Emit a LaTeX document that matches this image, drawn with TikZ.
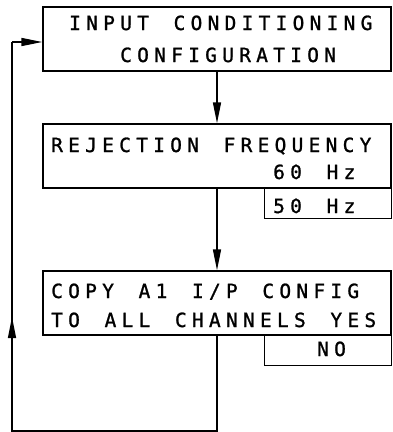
\documentclass[tikz,border=0pt]{standalone}
\usepackage{fontspec}
\usepackage{tikz}
\usetikzlibrary{arrows.meta,positioning,calc}
\newfontfamily\dispfont[LetterSpace=27,WordSpace=1.45,FakeBold=1.2]{DejaVu Sans Mono}
\tikzset{
	menubox/.style={draw,line width=1.3pt,inner sep=0pt},
	subbox/.style={draw,line width=1pt,inner sep=0pt},
	disptext/.style={anchor=base west,inner sep=0pt,font=\dispfont\fontsize{19.5}{20}\selectfont},
	flow/.style={line width=1.4pt,-{Triangle[length=21pt,width=8pt]}},
	plain/.style={line width=1.4pt}
}
\begin{document}
\begin{tikzpicture}[x=1pt,y=-1pt]
			\useasboundingbox (0,0) rectangle (392,432);
			% Draw menu boxes
			\node[menubox,minimum width=348pt,minimum height=64pt] (inp) at (217,39) {};
			\node[menubox,minimum width=348pt,minimum height=64pt] (rej) at (217,156) {};
			\node[subbox,minimum width=127pt,minimum height=30pt] (opt50) at (327.5,203) {};
			\node[menubox,minimum width=348pt,minimum height=64pt] (cpy) at (217,303) {};
			\node[subbox,minimum width=127pt,minimum height=30pt] (optno) at (327.5,350) {};
			% Box texts
			\node[disptext] (inp1) at (69,30) {INPUT CONDITIONING};
			\node[disptext] (inp2) at (120,62) {CONFIGURATION};
			\node[disptext] (rej1) at (51,152) {REJECTION FREQUENCY};
			\node[disptext] (rej2) at (273,179) {60 Hz};
			\node[disptext] (rej3) at (273,213) {50 Hz};
			\node[disptext] (cpy1) at (51,298) {COPY A1 I/P CONFIG};
			\node[disptext] (cpy2) at (51,327) {TO ALL CHANNELS YES};
			\node[disptext] (cpy3) at (317,356) {NO};
			% Arrows between boxes
			\draw[flow] (inp.south) -- (rej.north);
			\draw[flow] (rej.south) -- (cpy.north);
			% Return loop
			\coordinate (loopbr) at (cpy.south |- 0,431);
			\coordinate (loopbl) at (12,431);
			\coordinate (looptl) at (12,42);
			\coordinate (loopup) at (12,317);
			\draw[plain] (cpy.south) -- (loopbr) -- (loopbl) -- (looptl);
			\draw[flow] (loopbl) -- (loopup);
			\draw[flow] (looptl) -- (looptl -| inp.west);
		\end{tikzpicture}
\end{document}
